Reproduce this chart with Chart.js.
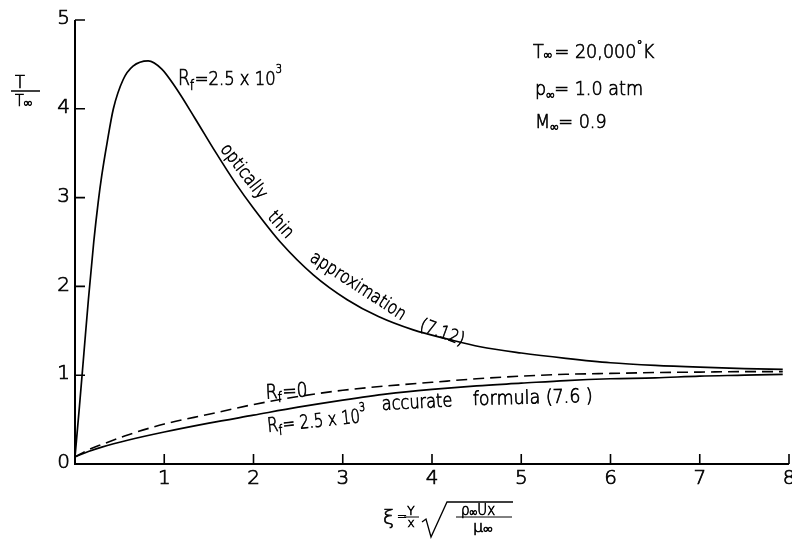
<!DOCTYPE html>
<html>
<head>
<meta charset="utf-8">
<script src="https://cdn.jsdelivr.net/npm/chart.js@4/dist/chart.umd.min.js"></script>
<style>
  html, body { margin: 0; padding: 0; background: #fff; }
  #wrap { width: 792px; height: 541px; }
</style>
</head>
<body>
<div id="wrap"><canvas id="c" width="792" height="541"></canvas></div>
<script>
// Axis ticks
const xTicks = [0, 1, 2, 3, 4, 5, 6, 7, 8];
const yTicks = [0, 1, 2, 3, 4, 5];

// Optically thin approximation (7.12), Rf = 2.5 x 10^3
const thinXi = [0, 0.05, 0.10, 0.15, 0.21, 0.26, 0.30, 0.36, 0.43, 0.54, 0.65, 0.82, 0.97, 1.12, 1.34, 1.57, 1.80, 2.00, 2.30, 2.67, 3.05, 3.40, 3.79, 4.20, 4.54, 5.00, 5.50, 6.00, 6.50, 7.00, 7.50, 7.93];
const thinT  = [0.08, 0.65, 1.25, 1.85, 2.50, 2.95, 3.25, 3.62, 4.00, 4.33, 4.48, 4.54, 4.45, 4.25, 3.90, 3.52, 3.16, 2.88, 2.50, 2.13, 1.85, 1.66, 1.51, 1.40, 1.32, 1.25, 1.19, 1.14, 1.11, 1.09, 1.075, 1.065];

// Rf = 0 (dashed)
const zeroXi = [0, 0.15, 0.3, 0.6, 1.0, 1.5, 2.0, 2.5, 3.0, 3.5, 4.0, 4.5, 5.0, 5.5, 6.0, 6.5, 7.0, 7.5, 7.93];
const zeroT  = [0.08, 0.16, 0.22, 0.33, 0.45, 0.56, 0.67, 0.76, 0.83, 0.88, 0.92, 0.96, 0.99, 1.01, 1.02, 1.03, 1.035, 1.04, 1.04];

// Rf = 2.5 x 10^3, accurate formula (7.6)
const accXi = [0, 0.15, 0.3, 0.6, 1.0, 1.5, 2.0, 2.5, 3.0, 3.5, 4.0, 4.5, 5.0, 5.5, 6.0, 6.5, 7.0, 7.5, 7.93];
const accT  = [0.08, 0.14, 0.19, 0.27, 0.36, 0.46, 0.55, 0.64, 0.72, 0.79, 0.84, 0.88, 0.91, 0.94, 0.96, 0.97, 0.99, 1.00, 1.01];

const pts = (xs, ys) => xs.map((x, i) => ({ x: x, y: ys[i] }));

// thin lettering: light face with a fine outline to give pen-like strokes
const FAMILY = "'DejaVu Sans'";
const font = s => `200 ${s}px ${FAMILY}`;
const PEN = 0.7;

function letter(ctx, t, x, y) {
  ctx.fillText(t, x, y);
  ctx.strokeText(t, x, y);
}

// Draws a run of text pieces (with sub/superscripts) along a rotated baseline
function run(ctx, x, y, deg, parts, opts) {
  opts = opts || {};
  ctx.save();
  ctx.translate(x, y);
  ctx.rotate(deg * Math.PI / 180);
  ctx.scale(opts.sx || 1, 1);
  ctx.textAlign = 'left';
  ctx.textBaseline = opts.baseline || 'alphabetic';
  ctx.lineWidth = PEN;
  let total = 0;
  for (const p of parts) { ctx.font = font(p.s); total += ctx.measureText(p.t).width + (p.g || 0); }
  let cx = opts.center ? -total / 2 : 0;
  for (const p of parts) {
    ctx.font = font(p.s);
    letter(ctx, p.t, cx, p.dy || 0);
    cx += ctx.measureText(p.t).width + (p.g || 0);
  }
  ctx.restore();
}

const frame = {
  id: 'frame',
  afterDraw(chart) {
    const ctx = chart.ctx;
    const xs = chart.scales.x, ys = chart.scales.y;
    const area = chart.chartArea;
    const X = v => xs.getPixelForValue(v);
    const Y = v => ys.getPixelForValue(v);
    ctx.save();
    ctx.strokeStyle = '#000';
    ctx.fillStyle = '#000';
    ctx.lineCap = 'butt';

    // axis lines
    ctx.lineWidth = 2;
    ctx.beginPath();
    ctx.moveTo(X(0), Y(5));
    ctx.lineTo(X(0), Y(0));
    ctx.lineTo(X(8), Y(0));
    ctx.stroke();

    // inward tick marks
    ctx.lineWidth = 1.6;
    ctx.beginPath();
    for (const t of yTicks) {
      if (t === 0) continue;
      ctx.moveTo(X(0), Y(t)); ctx.lineTo(X(0) + 10, Y(t));
    }
    for (const t of xTicks) {
      if (t === 0) continue;
      ctx.moveTo(X(t), Y(0)); ctx.lineTo(X(t), Y(0) - 10);
    }
    ctx.stroke();

    // tick labels
    ctx.font = font(20);
    ctx.lineWidth = PEN;
    ctx.textAlign = 'right';
    ctx.textBaseline = 'middle';
    for (const t of yTicks) letter(ctx, String(t), X(0) - 5, Y(t) - 1);
    ctx.textAlign = 'center';
    for (const t of xTicks) {
      if (t === 0) continue;
      letter(ctx, String(t), X(t), Y(0) + 15);
    }

    // y axis title: T / T∞
    const L = area.left, T0 = area.top, B = area.bottom;
    run(ctx, L - 55, T0 + 68, 0, [{ t: 'T', s: 18 }], { center: true, sx: 0.9 });
    ctx.lineWidth = 1.5;
    ctx.beginPath(); ctx.moveTo(L - 64, T0 + 71); ctx.lineTo(L - 35, T0 + 71); ctx.stroke();
    run(ctx, L - 60, T0 + 86, 0, [{ t: 'T', s: 16 }, { t: '∞', s: 13, dy: 1 }], { sx: 0.9 });

    // x axis title: ξ = (Y/x) sqrt(ρ∞ U x / μ∞)
    const bx = X(0), by = B;
    run(ctx, bx + 308, by + 60, 0, [{ t: 'ξ', s: 20 }]);
    run(ctx, bx + 322, by + 56, 0, [{ t: '=', s: 12 }]);
    run(ctx, bx + 336, by + 51, 0, [{ t: 'Y', s: 12 }], { center: true });
    ctx.lineWidth = 1;
    ctx.beginPath(); ctx.moveTo(bx + 329, by + 53); ctx.lineTo(bx + 344, by + 53); ctx.stroke();
    run(ctx, bx + 336, by + 63, 0, [{ t: 'x', s: 12 }], { center: true });
    ctx.lineWidth = 1.3;
    ctx.beginPath();
    ctx.moveTo(bx + 347, by + 58);
    ctx.lineTo(bx + 351, by + 55);
    ctx.lineTo(bx + 356, by + 73);
    ctx.lineTo(bx + 372, by + 38);
    ctx.lineTo(bx + 438, by + 38);
    ctx.stroke();
    run(ctx, bx + 386, by + 51, 0, [{ t: 'ρ', s: 15 }, { t: '∞', s: 12, dy: 1 }, { t: 'Ux', s: 15 }], { sx: 0.9 });
    ctx.lineWidth = 1;
    ctx.beginPath(); ctx.moveTo(bx + 381, by + 53); ctx.lineTo(bx + 437, by + 53); ctx.stroke();
    run(ctx, bx + 398, by + 68, 0, [{ t: 'μ', s: 16 }, { t: '∞', s: 13, dy: 1 }]);

    // free-stream conditions
    run(ctx, X(5.132), Y(4.572), 0, [{ t: 'T', s: 20 }, { t: '∞', s: 13, dy: 1, g: 3 }, { t: '= 20,000', s: 20 }, { t: '°', s: 14, dy: -8 }, { t: 'K', s: 20 }], { sx: 0.88 });
    run(ctx, X(5.154), Y(4.155), 0, [{ t: 'p', s: 20 }, { t: '∞', s: 13, dy: 4 }, { t: '= 1.0 atm', s: 20 }], { sx: 0.88 });
    run(ctx, X(5.154), Y(3.784), 0, [{ t: 'M', s: 20 }, { t: '∞', s: 13, dy: 3 }, { t: '= 0.9', s: 20 }], { sx: 0.88 });

    // curve labels
    run(ctx, X(1.154), Y(4.267), 0, [{ t: 'R', s: 21 }, { t: 'f', s: 14, dy: 5, g: 1 }, { t: '=2.5 x 10', s: 20 }, { t: '3', s: 12, dy: -12 }], { sx: 0.82 });
    run(ctx, X(1.885), Y(3.29), 52, [{ t: 'optically', s: 18 }], { center: true, baseline: 'middle', sx: 0.85 });
    run(ctx, X(2.30), Y(2.69), 48, [{ t: 'thin', s: 18 }], { center: true, baseline: 'middle', sx: 0.85 });
    run(ctx, X(3.170), Y(2.00), 33, [{ t: 'approximation', s: 18 }], { center: true, baseline: 'middle', sx: 0.85 });
    run(ctx, X(4.112), Y(1.475), 20, [{ t: '(7.12)', s: 18 }], { center: true, baseline: 'middle', sx: 0.85 });

    run(ctx, X(2.140), Y(0.735), -3, [{ t: 'R', s: 20 }, { t: 'f', s: 14, dy: 4, g: 1 }, { t: '=0', s: 20 }], { sx: 0.85 });
    run(ctx, X(2.162), Y(0.360), -6, [{ t: 'R', s: 20 }, { t: 'f', s: 14, dy: 4, g: 1 }, { t: '= 2.5 x 10', s: 19 }, { t: '3', s: 12, dy: -11 }], { sx: 0.78 });
    run(ctx, X(3.440), Y(0.608), -3, [{ t: 'accurate', s: 19 }], { sx: 0.85 });
    run(ctx, X(4.459), Y(0.664), -1.5, [{ t: 'formula (7.6 )', s: 19 }], { sx: 0.92 });

    ctx.restore();
  }
};

new Chart(document.getElementById('c'), {
  type: 'line',
  data: {
    datasets: [
      { data: pts(thinXi, thinT), borderColor: '#000', borderWidth: 1.7, pointRadius: 0, fill: false, cubicInterpolationMode: 'monotone' },
      { data: pts(zeroXi, zeroT), borderColor: '#000', borderWidth: 1.6, borderDash: [11, 6], pointRadius: 0, fill: false, cubicInterpolationMode: 'monotone' },
      { data: pts(accXi, accT), borderColor: '#000', borderWidth: 1.7, pointRadius: 0, fill: false, cubicInterpolationMode: 'monotone' }
    ]
  },
  options: {
    responsive: false,
    animation: false,
    devicePixelRatio: 1,
    layout: { padding: { left: 75, top: 20, right: 3, bottom: 77 } },
    plugins: { legend: { display: false }, tooltip: { enabled: false } },
    scales: {
      x: { type: 'linear', min: 0, max: 8, display: false },
      y: { type: 'linear', min: 0, max: 5, display: false }
    }
  },
  plugins: [frame]
});
</script>
</body>
</html>
